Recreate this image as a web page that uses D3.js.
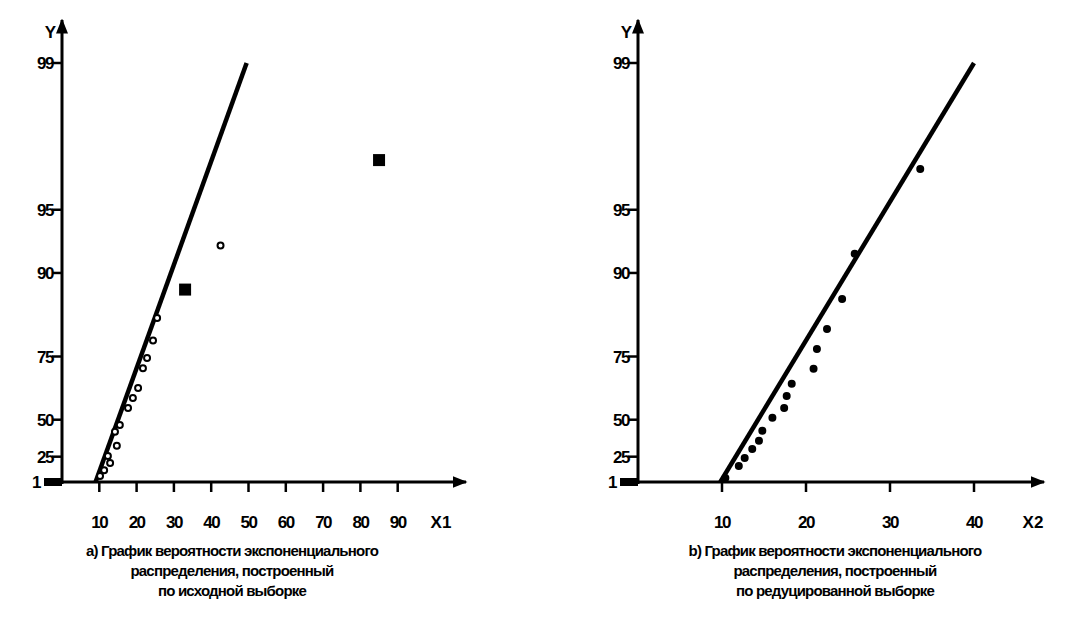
<!DOCTYPE html>
<html lang="en">
<head>
<meta charset="utf-8">
<title>Графики вероятности</title>
<script src="https://cdnjs.cloudflare.com/ajax/libs/d3/7.8.5/d3.min.js"></script>
<style>
  body { margin: 0; background: #fff; }
  text { font-family: "Liberation Sans", Arial, sans-serif; font-weight: bold; fill: #000; }
</style>
</head>
<body>
<svg id="chart" width="1089" height="639"></svg>
<script>
// probability ticks (%)
const yTicks = [1, 25, 50, 75, 90, 95, 99];

// panel a: source sample
const x1Ticks = [10, 20, 30, 40, 50, 60, 70, 80, 90];
const x1Line = [9, 49.5];
const x1Circ = [10.2, 11.3, 12.3, 12.9, 14.2, 14.7, 15.5, 17.7, 19.0, 20.4, 21.7, 22.8, 24.4, 25.5, 42.5];
const p1Circ = [7.4, 13, 25.6, 19.7, 43, 33.5, 47, 56, 60.6, 64.7, 71.6, 74.6, 79, 83.6, 92.6];
const x1Sq = [33, 85];
const p1Sq = [88, 97.1];

// panel b: reduced sample
const x2Ticks = [10, 20, 30, 40];
const x2Line = [9.8, 40];
const x2Pts = [10.4, 12.0, 12.7, 13.6, 14.4, 14.8, 16.0, 17.4, 17.7, 18.3, 20.9, 21.3, 22.5, 24.3, 25.8, 33.6];
const p2Pts = [5.3, 17, 24, 31, 37, 43.5, 51, 56, 61.4, 66.3, 71.4, 77, 81.5, 86.7, 91.9, 96.8];

const captionA = ["а) График вероятности экспоненциального", "распределения, построенный", "по исходной выборке"];
const captionB = ["b) График вероятности экспоненциального", "распределения, построенный", "по редуцированной выборке"];

const svg = d3.select("#chart");
const tr = p => -Math.log(1 - p / 100);
const yLin = d3.scaleLinear().domain([tr(1), tr(99)]).range([482, 63]);
const y = p => yLin(tr(p));

svg.append("defs").append("marker")
  .attr("id", "arr").attr("viewBox", "0 0 10 10").attr("refX", 9).attr("refY", 5)
  .attr("markerWidth", 5).attr("markerHeight", 5).attr("orient", "auto")
  .append("path").attr("d", "M0,1L10,5L0,9z").attr("fill", "#000");

function panel(o) {
  const x = d3.scaleLinear().domain([0, o.xmax]).range([o.x0, o.x0 + o.xw]);
  const g = svg.append("g");
  // axes
  g.append("line").attr("x1", o.x0 - 2).attr("x2", o.xEnd).attr("y1", 482).attr("y2", 482)
    .attr("stroke", "#000").attr("stroke-width", 3).attr("marker-end", "url(#arr)");
  g.append("line").attr("x1", o.x0).attr("x2", o.x0).attr("y1", 484).attr("y2", 20)
    .attr("stroke", "#000").attr("stroke-width", 3).attr("marker-end", "url(#arr)");
  g.append("rect").attr("x", o.x0 - 18).attr("y", 478).attr("width", 18).attr("height", 8).attr("fill", "#000");
  g.append("text").attr("x", o.x0 - 6).attr("y", 38).attr("text-anchor", "end").attr("font-size", 17).text("Y");
  // y ticks
  yTicks.forEach(t => {
    if (t > 1) g.append("line").attr("x1", o.x0 - 10).attr("x2", o.x0).attr("y1", y(t)).attr("y2", y(t))
      .attr("stroke", "#000").attr("stroke-width", 2.5);
    g.append("text").attr("x", t > 1 ? o.x0 - 9 : o.x0 - 22).attr("y", y(t) + 6).attr("text-anchor", "end")
      .attr("font-size", 17).attr("letter-spacing", -1.5).text(t);
  });
  // x ticks
  o.xTicks.forEach(t => {
    g.append("line").attr("x1", x(t)).attr("x2", x(t)).attr("y1", 482).attr("y2", 492)
      .attr("stroke", "#000").attr("stroke-width", 2.5);
    g.append("text").attr("x", x(t)).attr("y", 528).attr("text-anchor", "middle")
      .attr("font-size", 17).attr("letter-spacing", -1.5).text(t);
  });
  g.append("text").attr("x", o.xLab).attr("y", 528).attr("text-anchor", "middle")
    .attr("font-size", 17).text(o.name);
  // fitted line
  g.append("line").attr("x1", x(o.line[0])).attr("y1", y(1)).attr("x2", x(o.line[1])).attr("y2", y(99))
    .attr("stroke", "#000").attr("stroke-width", 4.5);
  // points
  o.cx.forEach((v, i) => {
    g.append("circle").attr("cx", x(v)).attr("cy", y(o.cp[i])).attr("r", 3)
      .attr("fill", o.fill).attr("stroke", "#000").attr("stroke-width", 2);
  });
  o.sx.forEach((v, i) => {
    g.append("rect").attr("x", x(v) - 6).attr("y", y(o.sp[i]) - 6).attr("width", 12).attr("height", 12).attr("fill", "#000");
  });
  // caption
  o.cap.forEach((s, i) => {
    g.append("text").attr("x", o.capX).attr("y", 556 + i * 20).attr("text-anchor", "middle")
      .attr("font-size", 15).attr("letter-spacing", -0.8).text(s);
  });
}

panel({ x0: 62, xmax: 100, xw: 373, xEnd: 466, xLab: 441, xTicks: x1Ticks, name: "X1", fill: "#fff",
  line: x1Line, cx: x1Circ, cp: p1Circ, sx: x1Sq, sp: p1Sq, cap: captionA, capX: 232 });
panel({ x0: 638, xmax: 50, xw: 420, xEnd: 1044, xLab: 1033, xTicks: x2Ticks, name: "X2", fill: "#000",
  line: x2Line, cx: x2Pts, cp: p2Pts, sx: [], sp: [], cap: captionB, capX: 835 });
</script>
</body>
</html>
